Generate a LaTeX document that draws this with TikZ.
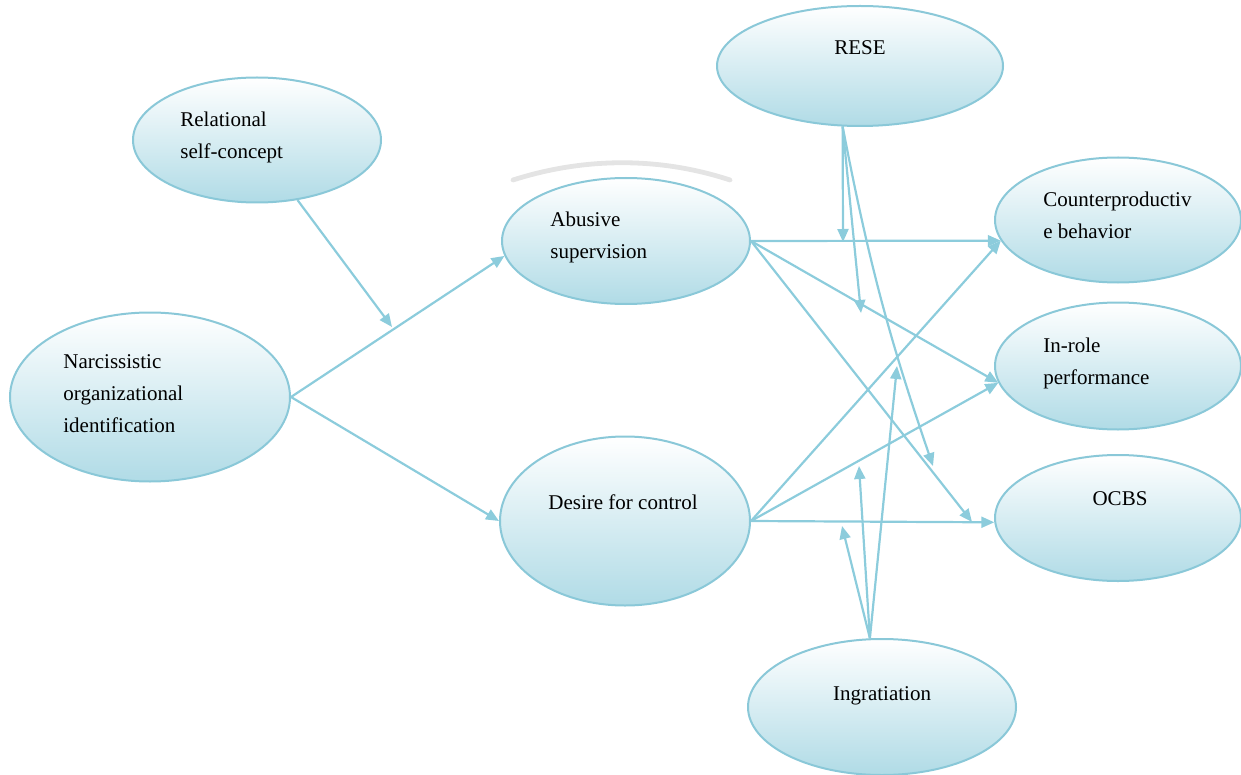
\documentclass[tikz,border=0pt]{standalone}
\usepackage{fontspec}
\setmainfont{Liberation Serif}
\usetikzlibrary{shapes.geometric,arrows.meta}
\definecolor{edgeblue}{RGB}{138,200,216}
\definecolor{arrowblue}{RGB}{140,204,220}
\definecolor{fillblue}{RGB}{176,219,230}
\definecolor{arcgray}{RGB}{228,228,228}
\tikzset{
  ell/.style={ellipse, draw=edgeblue, line width=1pt, top color=white, bottom color=fillblue, inner sep=0pt},
  lbl/.style={inner sep=0pt, align=left, font=\fontsize{10.5}{16}\selectfont},
  conn/.style={draw=arrowblue, line width=1.1pt, -{Triangle[length=6.5pt,width=5.5pt]}}
}
\begin{document}
\begin{tikzpicture}[x=0.5pt,y=-0.5pt]
\useasboundingbox (0,0) rectangle (1241,775);
% faint arc above Abusive supervision
\draw[arcgray, line width=2.4pt, line cap=round] (513,180) .. controls (585,157) and (660,157) .. (730,180);
% ellipses
\node[ell, minimum width=124pt, minimum height=62.5pt] (rsc) at (257,140) {};
\node[ell, minimum width=140pt, minimum height=84.5pt] (noi) at (150,397) {};
\node[ell, minimum width=124pt, minimum height=63pt] (abs) at (626,241) {};
\node[ell, minimum width=125pt, minimum height=84.5pt] (dfc) at (625,521) {};
\node[ell, minimum width=143pt, minimum height=60pt] (rese) at (860,66) {};
\node[ell, minimum width=123pt, minimum height=62.5pt] (cpb) at (1118,220) {};
\node[ell, minimum width=123pt, minimum height=63.5pt] (irp) at (1118,366) {};
\node[ell, minimum width=123pt, minimum height=63pt] (ocbs) at (1118,518) {};
\node[ell, minimum width=134pt, minimum height=68pt] (ingr) at (882,707) {};
% labels (base anchor = baseline of the last line)
\node[lbl, anchor=base west] (rsct) at (180,159) {Relational\\self-concept};
\node[lbl, anchor=base west] (noit) at (63,432) {Narcissistic\\organizational\\identification};
\node[lbl, anchor=base west] (abst) at (550,258) {Abusive\\supervision};
\node[lbl, anchor=base west] (dfct) at (548,509) {Desire for control};
\node[lbl, anchor=base] (reset) at (860,55) {RESE};
\node[lbl, anchor=base west] (cpbt) at (1043,239) {Counterproductiv\\e behavior};
\node[lbl, anchor=base west] (irpt) at (1043,384) {In-role\\performance};
\node[lbl, anchor=base] (ocbst) at (1120,505) {OCBS};
\node[lbl, anchor=base] (ingrt) at (882,700) {Ingratiation};
% free ends of moderating arrows
\coordinate (m0) at (392,327);
\coordinate (a3) at (972,522);
\coordinate (r1) at (843,242);
\coordinate (r2) at (861,313);
\coordinate (r3) at (933,466);
\coordinate (g1) at (842,526);
\coordinate (g2) at (859,466);
\coordinate (g3) at (897,366);
% connectors
\draw[conn] (rsc.304) -- (m0);
\draw[conn] (noi.east) -- (abs.187);
\draw[conn] (noi.east) -- (dfc.west);
\draw[conn] (abs.east) -- (cpb.190);
\draw[conn] (abs.east) -- (irp.188);
\draw[conn] (abs.east) -- (a3);
\draw[conn] (dfc.east) -- (cpb.190);
\draw[conn] (dfc.east) -- (irp.188);
\draw[conn] (dfc.east) -- (ocbs.182);
\draw[conn] (rese.254) -- (r1);
\draw[conn] (rese.254) -- (r2);
\draw[conn] (rese.254) to[bend right=4] (r3);
\draw[conn] (ingr.100) -- (g1);
\draw[conn] (ingr.100) -- (g2);
\draw[conn] (ingr.100) -- (g3);
\end{tikzpicture}
\end{document}
